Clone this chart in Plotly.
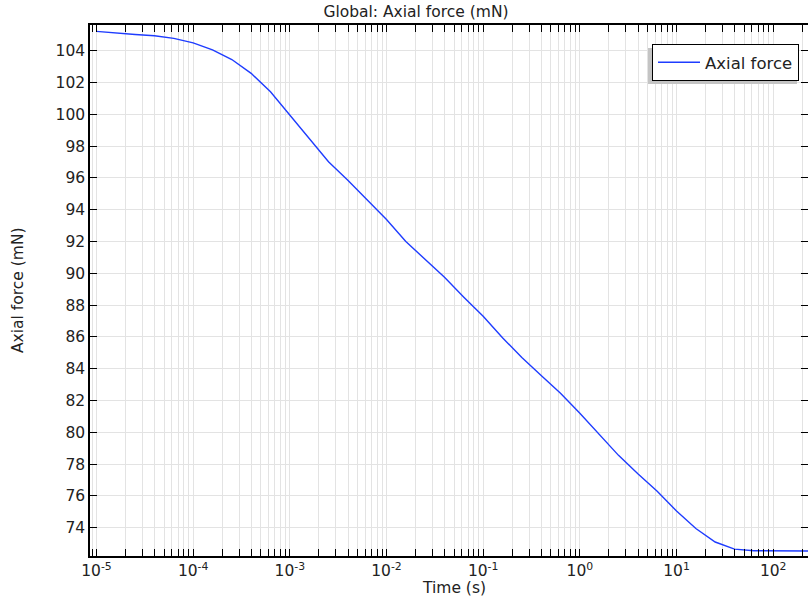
import numpy as np
import plotly.graph_objects as go

# Time points (s), log-spaced 5 per decade
time_exp = [-5.0, -4.8, -4.6, -4.4, -4.2, -4.0, -3.8, -3.6, -3.4, -3.2,
            -3.0, -2.8, -2.6, -2.4, -2.2, -2.0, -1.8, -1.6, -1.4, -1.2,
            -1.0, -0.8, -0.6, -0.4, -0.2, 0.0, 0.2, 0.4, 0.6, 0.8,
            1.0, 1.2, 1.4, 1.6, 1.8, 2.0, 2.2, 2.4]
time_s = [10 ** e for e in time_exp]

axial_force = [105.22, 105.10, 105.02, 104.94, 104.78, 104.50, 104.05, 103.45, 102.58, 101.42,
               99.96, 98.45, 97.02, 95.85, 94.62, 93.38, 92.00, 90.85, 89.75, 88.50,
               87.30, 85.95, 84.70, 83.58, 82.45, 81.20, 79.85, 78.55, 77.40, 76.30,
               75.05, 73.95, 73.10, 72.65, 72.55, 72.53, 72.53, 72.53]

x_tick_vals = [1e-5, 1e-4, 1e-3, 1e-2, 1e-1, 1e0, 1e1, 1e2]
x_tick_text = ["10<sup>-5</sup>", "10<sup>-4</sup>", "10<sup>-3</sup>", "10<sup>-2</sup>",
               "10<sup>-1</sup>", "10<sup>0</sup>", "10<sup>1</sup>", "10<sup>2</sup>"]
y_ticks = list(range(74, 106, 2))

FONT = "DejaVu Sans"
GRID = "#e3e3e3"
TXT = "#222"

L, R, T, B = 90, 808, 25, 556
W, H = R - L, B - T

def px(x):
    return (x - L) / W

def py(y):
    return 1 - (y - T) / H

fig = go.Figure()
fig.add_trace(go.Scatter(
    x=time_s, y=axial_force, mode="lines", name="Axial force",
    line=dict(color="rgb(30,60,255)", width=1.4),
))

fig.update_layout(
    width=808, height=600,
    margin=dict(l=L, r=808 - R, t=T, b=600 - B, autoexpand=False),
    paper_bgcolor="white", plot_bgcolor="white",
    font=dict(family=FONT, size=15.5, color=TXT),
    title=dict(text="Global: Axial force (mN)", x=416 / 808, xref="container", xanchor="center",
               y=1 - 12 / 600, yref="container", yanchor="middle",
               font=dict(size=15.5, color=TXT), automargin=False),
    showlegend=True,
    legend=dict(x=px(652), xanchor="left", y=py(44), yanchor="top",
                bgcolor="white", bordercolor="black", borderwidth=1,
                itemwidth=42,
                font=dict(size=16.5, color=TXT)),
    xaxis=dict(
        type="log", range=[-5.067, 2.36],
        tickvals=x_tick_vals, ticktext=x_tick_text,
        ticks="inside", ticklen=7, tickcolor="black",
        showline=True, linecolor="black", linewidth=1.5, mirror="ticks",
        showgrid=True, gridcolor=GRID,
        minor=dict(ticks="inside", ticklen=7, tickcolor="black", showgrid=True, gridcolor=GRID,
                   tickvals=[m * 10 ** d for d in range(-6, 3) for m in range(2, 10)]),
        automargin=False, zeroline=False,
    ),
    yaxis=dict(
        range=[72.22, 105.62], tickvals=y_ticks,
        ticks="inside", ticklen=7, tickcolor="black",
        showline=True, linecolor="black", linewidth=1.5, mirror="ticks",
        showgrid=True, gridcolor=GRID,
        automargin=False, zeroline=False,
    ),
    annotations=[
        dict(text="Time (s)", xref="paper", yref="paper", x=px(454), y=py(588),
             xanchor="center", yanchor="middle", showarrow=False, font=dict(size=15.5, color=TXT)),
        dict(text="Axial force (mN)", xref="paper", yref="paper", x=px(18), y=py(290),
             xanchor="center", yanchor="middle", textangle=-90, showarrow=False,
             font=dict(size=15.5, color=TXT)),
    ],
    shapes=[dict(type="rect", xref="paper", yref="paper",
                 x0=px(648), x1=px(797), y0=py(84), y1=py(48),
                 fillcolor="#c4c4c4", line=dict(width=0), layer="above")],
)

fig.write_html("out.html", config={"displayModeBar": False},
               post_script="document.body.style.margin='0';document.body.style.overflow='hidden';")
